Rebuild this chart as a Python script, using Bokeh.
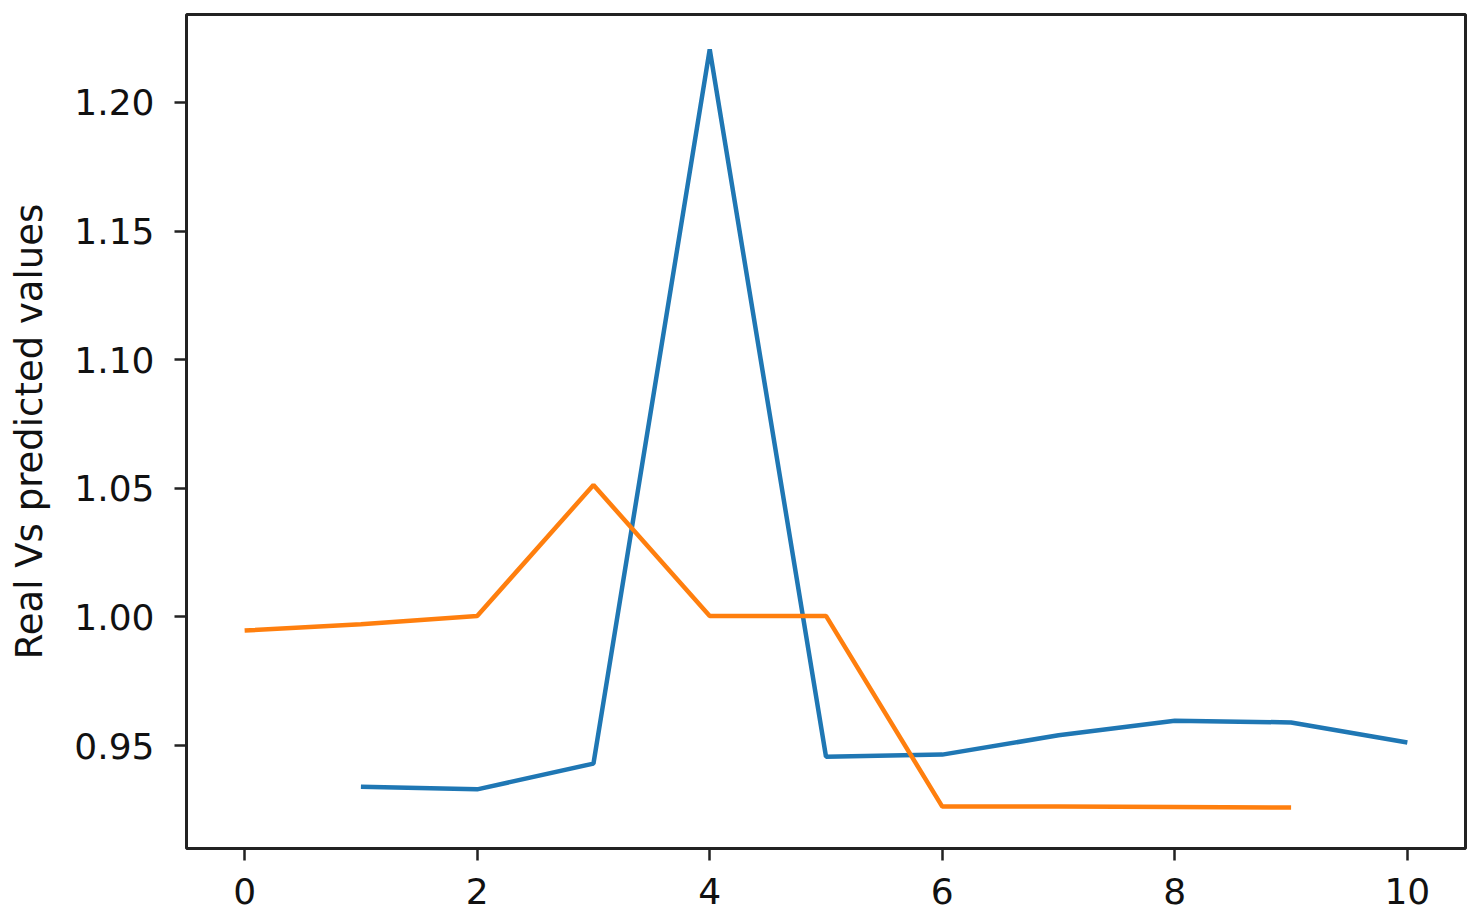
from bokeh.plotting import figure
from bokeh.models import FixedTicker, PrintfTickFormatter, Range1d
from bokeh.embed import file_html
from bokeh.resources import INLINE

real_x = [1, 2, 3, 4, 5, 6, 7, 8, 9, 10]
real_y = [0.9340, 0.9330, 0.9430, 1.2206, 0.9457, 0.9465, 0.9540, 0.9597, 0.9590, 0.9512]

pred_x = [0, 1, 2, 3, 4, 5, 6, 7, 8, 9]
pred_y = [0.9947, 0.9972, 1.0004, 1.0513, 1.0004, 1.0004, 0.9263, 0.9263, 0.9261, 0.9259]

x_ticks = [0, 2, 4, 6, 8, 10]
y_ticks = [0.95, 1.00, 1.05, 1.10, 1.15, 1.20]
y_label = "Real Vs predicted values"

p = figure(width=1470, height=914, output_backend="svg", toolbar_location=None,
           x_range=Range1d(-0.5, 10.5), y_range=Range1d(0.9100, 1.2342),
           min_border_left=186, min_border_right=5, min_border_top=14, min_border_bottom=66)

p.line(real_x, real_y, line_color="#1f77b4", line_width=4.5)
p.line(pred_x, pred_y, line_color="#ff7f0e", line_width=4.5)

p.xgrid.visible = False
p.ygrid.visible = False
p.outline_line_color = "#222222"
p.outline_line_width = 3
p.outline_line_alpha = 1.0

p.xaxis.ticker = FixedTicker(ticks=x_ticks)
p.yaxis.ticker = FixedTicker(ticks=y_ticks)
p.yaxis.formatter = PrintfTickFormatter(format="%.2f")
p.yaxis.axis_label = y_label

for ax in (p.xaxis[0], p.yaxis[0]):
    ax.axis_line_color = None
    ax.major_tick_line_color = "#222222"
    ax.major_tick_line_width = 2.5
    ax.major_tick_out = 12
    ax.major_tick_in = 0
    ax.minor_tick_line_color = None
    ax.major_label_text_font = "DejaVu Sans"
    ax.major_label_text_font_size = "36px"
    ax.major_label_text_color = "#111111"
    ax.axis_label_text_font = "DejaVu Sans"
    ax.axis_label_text_font_size = "37px"
    ax.axis_label_text_font_style = "normal"
    ax.axis_label_text_color = "#111111"

p.yaxis.major_label_standoff = 20
p.xaxis.major_label_standoff = 17
p.yaxis.axis_label_standoff = 20

open("out.html", "w").write(file_html(p, INLINE))
